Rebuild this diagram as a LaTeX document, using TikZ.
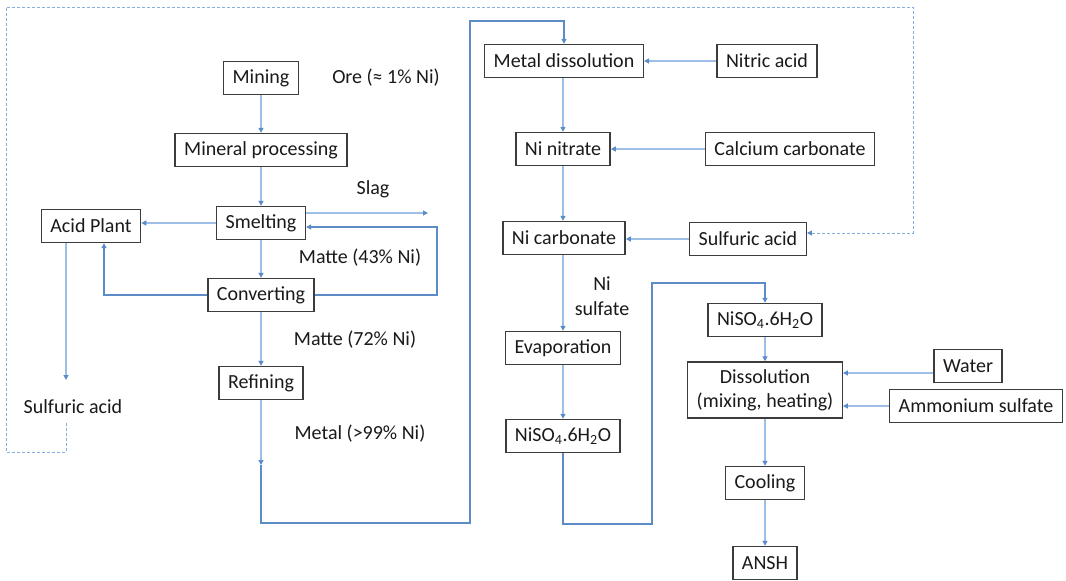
\documentclass[tikz,border=0pt]{standalone}
\usepackage{fontspec}
\setmainfont{Carlito}
\usetikzlibrary{arrows.meta}

\definecolor{flow}{HTML}{9DBFE6}
\definecolor{loop}{HTML}{5B8CC8}
\definecolor{dashblue}{HTML}{86AEDD}
\definecolor{boxline}{HTML}{3C3C3C}
\definecolor{ink}{HTML}{1A1A1A}

\tikzset{
  stepbox/.style={draw=boxline, line width=1.4pt, fill=white, text=ink,
    inner xsep=9pt, inner ysep=0pt, minimum height=33pt,
    font=\fontsize{20}{24}\selectfont, align=center},
  lbl/.style={text=ink, inner sep=0pt, font=\fontsize{20}{25}\selectfont, align=center},
  tip/.style={-{Triangle[length=5pt,width=5pt,color=loop]}},
  thinflow/.style={draw=flow, line width=1.3pt, tip},
  loopflow/.style={draw=loop, line width=1.3pt},
  recycle/.style={draw=dashblue, line width=1pt, dash pattern=on 3pt off 2pt},
}

\begin{document}
\begin{tikzpicture}[x=1pt, y=-1pt]
\useasboundingbox (0,0) rectangle (1066,581);
\fill[white] (0,0) rectangle (1066,581);

% pyrometallurgical route
\node[stepbox] (mining)  at (261,78)  {Mining};
\node[stepbox] (mineral) at (261,150) {Mineral processing};
\node[stepbox] (smelt)   at (261,223) {Smelting};
\node[stepbox] (acid)    at (91,226)  {Acid Plant};
\node[stepbox] (conv)    at (261,295) {Converting};
\node[stepbox] (refine)  at (261,383) {Refining};

\node[lbl] (ore)   at (386,78)  {Ore (≈ 1\% Ni)};
\node[lbl] (slag)  at (373,189) {Slag};
\node[lbl] (m43)   at (360,258) {Matte (43\% Ni)};
\node[lbl] (m72)   at (355,340) {Matte (72\% Ni)};
\node[lbl] (metal) at (360,434) {Metal (>99\% Ni)};
\node[lbl] (sulfA) at (73,407)  {Sulfuric acid};

% hydrometallurgical route
\node[stepbox] (mdiss)  at (564,61)  {Metal dissolution};
\node[stepbox] (nitric) at (767,61)  {Nitric acid};
\node[stepbox] (nitrate) at (563,149) {Ni nitrate};
\node[stepbox] (caco)   at (790,149) {Calcium carbonate};
\node[stepbox] (carb)   at (564,238) {Ni carbonate};
\node[stepbox] (sulfB)  at (748,239) {Sulfuric acid};
\node[lbl]     (nisul)  at (602,296) {Ni\\sulfate};
\node[stepbox] (evap)   at (563,348) {Evaporation};
\node[stepbox] (hexA)   at (563,436) {NiSO\textsubscript{4}.6H\textsubscript{2}O};

% ANSH synthesis
\node[stepbox] (hexB)   at (765,320) {NiSO\textsubscript{4}.6H\textsubscript{2}O};
\node[stepbox, minimum height=56pt] (diss) at (765,390) {Dissolution\\(mixing, heating)};
\node[stepbox] (water)  at (968,366) {Water};
\node[stepbox] (ammon)  at (976,406) {Ammonium sulfate};
\node[stepbox] (cool)   at (765,483) {Cooling};
\node[stepbox] (ansh)   at (765,563) {ANSH};

% helper points for open ends and bends
\coordinate (slagend) at (428,213);
\coordinate (metalout) at (261,465);
\coordinate (acidout) at (66,380);
\coordinate (acidrec) at (66,423);
\coordinate (watin) at ([yshift=-7pt]water.west);

% main vertical chain
\draw[thinflow] (mining) -- (mineral);
\draw[thinflow] (mineral) -- (smelt);
\draw[thinflow] (smelt) -- (conv);
\draw[thinflow] (conv) -- (refine);
\draw[thinflow] (refine) -- (metalout);

% side streams around the smelter
\draw[thinflow] (smelt.west) -- (smelt.west -| acid.east);
\draw[thinflow] ([yshift=10pt]smelt.east) -- (slagend);
\draw[loopflow, tip] (conv.east) -- (437,295) -- (437,227) -- ([yshift=-4pt]smelt.east);
\draw[loopflow, tip] (conv.west) -- (104,295) -- (104,295 |- acid.south);
\draw[thinflow] (acidout |- acid.south) -- (acidout);

% sulfuric acid recycled to the carbonate step
\draw[recycle, tip] (acidrec) -- (66,452) -- (6,452) -- (6,7) -- (913,7) -- (913,233) -- ([yshift=6pt]sulfB.east);

% metal transferred to dissolution
\draw[loopflow, tip] (metalout) -- (261,523) -- (470,523) -- (470,21) -- (mdiss.north |- 0,21) -- (mdiss.north);

\draw[thinflow] (nitric) -- (mdiss);
\draw[thinflow] (mdiss.south -| nitrate.north) -- (nitrate.north);
\draw[thinflow] (caco) -- (nitrate);
\draw[thinflow] (nitrate.south) -- (nitrate.south |- carb.north);
\draw[thinflow] (sulfB.west) -- (sulfB.west -| carb.east);
\draw[thinflow] (carb.south -| evap.north) -- (evap.north);
\draw[thinflow] (evap) -- (hexA);

% crystals carried to the ANSH synthesis
\draw[loopflow, tip] (hexA.south) -- (563,524) -- (652,524) -- (652,283) -- (hexB.north |- 0,283) -- (hexB.north);

\draw[thinflow] (hexB) -- (diss);
\draw[thinflow] (watin) -- (watin -| diss.east);
\draw[thinflow] (ammon.west) -- (ammon.west -| diss.east);
\draw[thinflow] (diss) -- (cool);
\draw[thinflow] (cool) -- (ansh);
\end{tikzpicture}
\end{document}
